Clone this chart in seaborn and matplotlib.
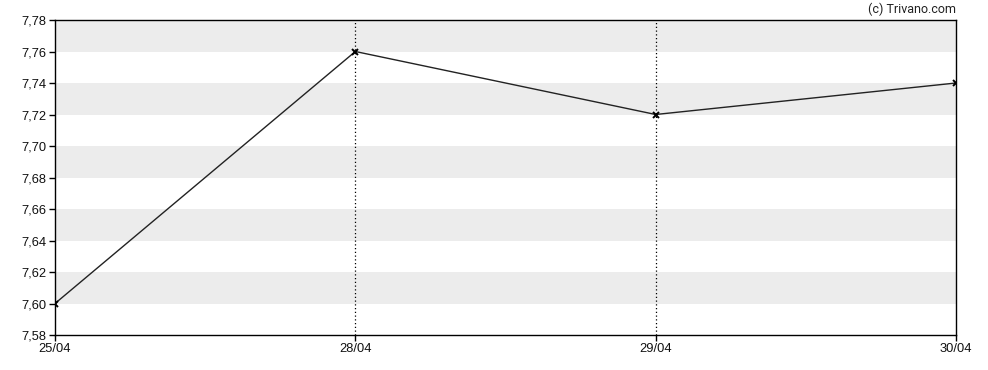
import matplotlib
matplotlib.use("Agg")
import matplotlib.pyplot as plt
import seaborn as sns
import pandas as pd
import numpy as np

dates = ["25/04", "28/04", "29/04", "30/04"]
prices = [7.60, 7.76, 7.72, 7.74]
y_ticks = [7.58, 7.60, 7.62, 7.64, 7.66, 7.68, 7.70, 7.72, 7.74, 7.76, 7.78]

sns.set_style("white")
plt.rcParams["font.family"] = ["Liberation Sans", "DejaVu Sans"]

df = pd.DataFrame({"idx": range(len(dates)), "price": prices})

fig = plt.figure(figsize=(9.88, 3.70), dpi=100)
ax = fig.add_axes([55/988, 1-335/370, (956-55)/988, (335-20)/370])

# alternating bands
for i in range(len(y_ticks) - 1):
    if (len(y_ticks) - 2 - i) % 2 == 0:
        ax.axhspan(y_ticks[i], y_ticks[i+1], color="#ececec", lw=0, zorder=0)

for i in range(1, len(dates) - 1):
    ax.axvline(i, color="black", ls=(0, (1, 2)), lw=0.9, zorder=1)

sns.lineplot(data=df, x="idx", y="price", ax=ax, color="#222222", lw=1,
             marker="x", markersize=4.5, markeredgewidth=1.4,
             markeredgecolor="black", zorder=3)

ax.set_xlim(0, len(dates) - 1)
ax.set_ylim(y_ticks[0], y_ticks[-1])
ax.set_xticks(range(len(dates)))
ax.set_xticklabels(dates)
ax.set_yticks(y_ticks)
ax.set_yticklabels([f"{v:.2f}".replace(".", ",") for v in y_ticks])
ax.set_xlabel("")
ax.set_ylabel("")
ax.tick_params(axis="both", which="both", direction="out", length=4, width=1,
               color="black", labelsize=9.3, labelcolor="#111111", pad=2,
               bottom=True, left=True)
for s in ax.spines.values():
    s.set_color("black")
    s.set_linewidth(1)
    s.set_visible(True)

fig.text(956/988, 1-9/370, "(c) Trivano.com", ha="right", va="center",
         fontsize=9, color="#222222", family=["Roboto", "DejaVu Sans"])

fig.savefig("out.png", dpi=100)
